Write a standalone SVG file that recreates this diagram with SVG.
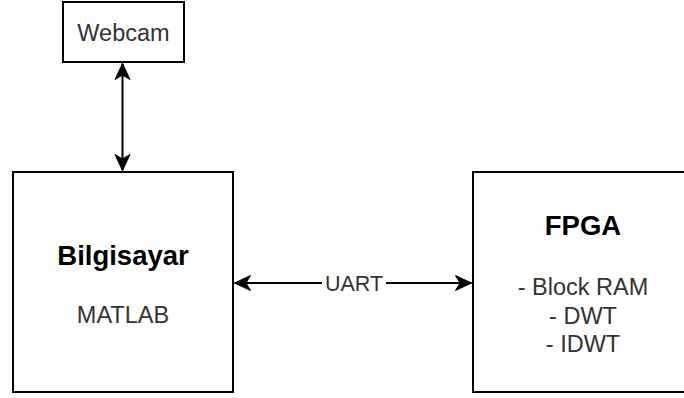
<svg xmlns="http://www.w3.org/2000/svg" width="684" height="398" viewBox="0 0 684 398">
  <style>
    .box { fill: #ffffff; stroke: #000000; stroke-width: 2; }
    .t { font-family: "Liberation Sans", Arial, sans-serif; fill: #333333; text-anchor: middle; font-size: 23.5px; }
    .b { font-family: "Liberation Sans", Arial, sans-serif; fill: #000000; text-anchor: middle; font-size: 27.5px; font-weight: bold; }
    .lbl { font-family: "Liberation Sans", Arial, sans-serif; fill: #333333; text-anchor: middle; font-size: 21.5px; }
    .edge { stroke: #000000; stroke-width: 2; fill: none; marker-start: url(#arr); marker-end: url(#arr); }
  </style>
  <defs>
    <marker id="arr" markerUnits="userSpaceOnUse" markerWidth="18" markerHeight="18" refX="16" refY="7.5" orient="auto-start-reverse" overflow="visible">
      <path d="M16,7.5 L0,0 L4.5,7.5 L0,15 Z" fill="#000000" stroke="#000000" stroke-width="1"/>
    </marker>
  </defs>
  <rect width="684" height="398" fill="#ffffff"/>
  <g id="connectors">
    <line class="edge" x1="122.5" y1="63.5" x2="122.5" y2="170.5"/>
    <line class="edge" x1="234.5" y1="283" x2="471.5" y2="283"/>
    <rect x="322" y="270" width="64" height="26" fill="#ffffff"/>
    <text class="lbl" x="354" y="290.5">UART</text>
  </g>
  <g id="webcam">
    <rect class="box" x="63" y="2" width="121" height="60"/>
    <text class="t" x="123.5" y="40.5">Webcam</text>
  </g>
  <g id="bilgisayar">
    <rect class="box" x="13" y="172" width="220" height="220"/>
    <text class="b" x="123" y="265">Bilgisayar</text>
    <text class="t" x="123" y="323">MATLAB</text>
  </g>
  <g id="fpga">
    <rect class="box" x="473" y="172" width="220" height="220"/>
    <text class="b" x="583" y="235">FPGA</text>
    <text class="t" x="583" y="295">- Block RAM</text>
    <text class="t" x="583" y="323.5">- DWT</text>
    <text class="t" x="583" y="352">- IDWT</text>
  </g>
</svg>
